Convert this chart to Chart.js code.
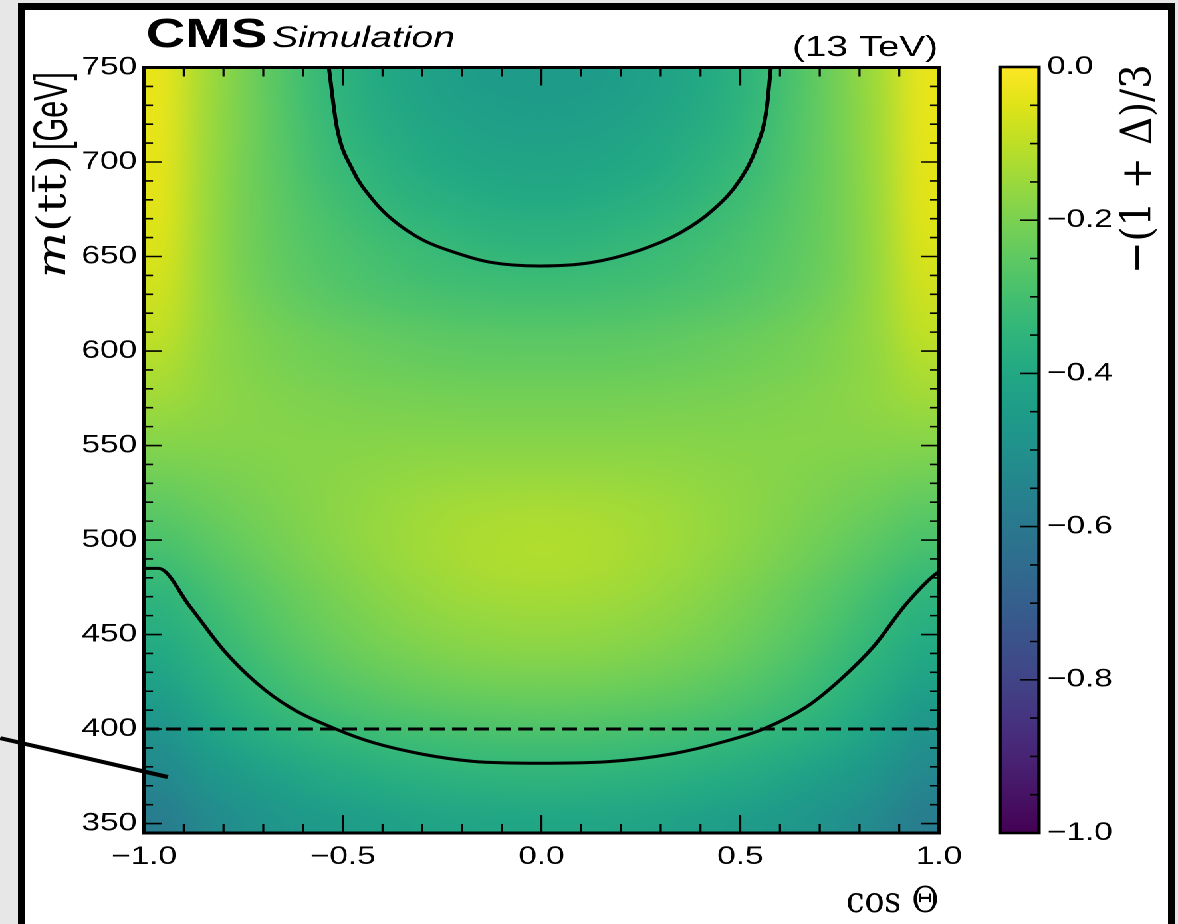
<!DOCTYPE html>
<html><head><meta charset="utf-8">
<script src="https://cdn.jsdelivr.net/npm/chart.js@4.4.1/dist/chart.umd.min.js"></script>
<style>
html,body{margin:0;padding:0;width:1178px;height:924px;overflow:hidden;background:#e7e7e7;}
#frame{position:absolute;left:18px;top:3px;width:1157px;height:935px;border:7px solid #000;box-sizing:border-box;background:#fff;}
#stage{position:absolute;left:0;top:0;height:924px;transform-origin:0 0;}
#stage canvas{position:absolute;top:0;}
</style></head><body>
<div id="frame"></div>
<div id="stage"><canvas id="main"></canvas><canvas id="cbar"></canvas></div>
<script>
// ---------------- data ----------------
const cosCenters = [-0.95,-0.85,-0.75,-0.65,-0.55,-0.45,-0.35,-0.25,-0.15,-0.05,0.05,0.15,0.25,0.35,0.45,0.55,0.65,0.75,0.85,0.95];
const cosHalfWidth = 0.05;
const massEdges = [345,360,375,390,405,420,435,450,465,480,495,510,525,540,555,570,585,600,615,630,645,660,675,690,705,720,735,750];
// -(1+Delta)/3 per mass row (bottom -> top), per cos bin (left -> right)
const dValues = [
[-0.58,-0.535,-0.5,-0.475,-0.455,-0.44,-0.428,-0.418,-0.412,-0.41,-0.41,-0.412,-0.418,-0.428,-0.44,-0.455,-0.475,-0.5,-0.535,-0.58],
[-0.55,-0.505,-0.468,-0.44,-0.418,-0.402,-0.389,-0.379,-0.373,-0.37,-0.37,-0.373,-0.379,-0.389,-0.402,-0.418,-0.44,-0.468,-0.505,-0.55],
[-0.52,-0.472,-0.433,-0.404,-0.382,-0.365,-0.351,-0.341,-0.334,-0.331,-0.331,-0.334,-0.341,-0.351,-0.365,-0.382,-0.404,-0.433,-0.472,-0.52],
[-0.49,-0.435,-0.392,-0.362,-0.34,-0.323,-0.31,-0.3,-0.293,-0.29,-0.29,-0.293,-0.3,-0.31,-0.323,-0.34,-0.362,-0.392,-0.435,-0.49],
[-0.455,-0.403,-0.36,-0.327,-0.301,-0.281,-0.266,-0.255,-0.248,-0.245,-0.245,-0.248,-0.255,-0.266,-0.281,-0.301,-0.327,-0.36,-0.403,-0.455],
[-0.42,-0.377,-0.337,-0.301,-0.271,-0.248,-0.23,-0.217,-0.209,-0.205,-0.205,-0.209,-0.217,-0.23,-0.248,-0.271,-0.301,-0.337,-0.377,-0.42],
[-0.392,-0.353,-0.312,-0.275,-0.244,-0.22,-0.201,-0.188,-0.179,-0.175,-0.175,-0.179,-0.188,-0.201,-0.22,-0.244,-0.275,-0.312,-0.353,-0.392],
[-0.368,-0.331,-0.291,-0.255,-0.225,-0.201,-0.182,-0.168,-0.159,-0.155,-0.155,-0.159,-0.168,-0.182,-0.201,-0.225,-0.255,-0.291,-0.331,-0.368],
[-0.345,-0.308,-0.272,-0.239,-0.21,-0.186,-0.167,-0.151,-0.14,-0.135,-0.135,-0.14,-0.151,-0.167,-0.186,-0.21,-0.239,-0.272,-0.308,-0.345],
[-0.31,-0.278,-0.247,-0.218,-0.193,-0.172,-0.153,-0.138,-0.126,-0.12,-0.12,-0.126,-0.138,-0.153,-0.172,-0.193,-0.218,-0.247,-0.278,-0.31],
[-0.28,-0.253,-0.228,-0.204,-0.183,-0.164,-0.148,-0.135,-0.125,-0.12,-0.12,-0.125,-0.135,-0.148,-0.164,-0.183,-0.204,-0.228,-0.253,-0.28],
[-0.25,-0.23,-0.211,-0.194,-0.179,-0.165,-0.153,-0.143,-0.136,-0.133,-0.133,-0.136,-0.143,-0.153,-0.165,-0.179,-0.194,-0.211,-0.23,-0.25],
[-0.22,-0.209,-0.198,-0.188,-0.179,-0.171,-0.164,-0.159,-0.156,-0.155,-0.155,-0.156,-0.159,-0.164,-0.171,-0.179,-0.188,-0.198,-0.209,-0.22],
[-0.19,-0.188,-0.186,-0.184,-0.182,-0.18,-0.178,-0.177,-0.176,-0.175,-0.175,-0.176,-0.177,-0.178,-0.18,-0.182,-0.184,-0.186,-0.188,-0.19],
[-0.165,-0.173,-0.18,-0.185,-0.189,-0.191,-0.193,-0.194,-0.195,-0.195,-0.195,-0.195,-0.194,-0.193,-0.191,-0.189,-0.185,-0.18,-0.173,-0.165],
[-0.14,-0.163,-0.18,-0.191,-0.199,-0.205,-0.209,-0.212,-0.214,-0.215,-0.215,-0.214,-0.212,-0.209,-0.205,-0.199,-0.191,-0.18,-0.163,-0.14],
[-0.12,-0.16,-0.186,-0.203,-0.215,-0.224,-0.231,-0.236,-0.239,-0.24,-0.24,-0.239,-0.236,-0.231,-0.224,-0.215,-0.203,-0.186,-0.16,-0.12],
[-0.1,-0.156,-0.189,-0.21,-0.226,-0.238,-0.247,-0.254,-0.258,-0.26,-0.26,-0.258,-0.254,-0.247,-0.238,-0.226,-0.21,-0.189,-0.156,-0.1],
[-0.085,-0.152,-0.199,-0.228,-0.249,-0.264,-0.275,-0.283,-0.288,-0.29,-0.29,-0.288,-0.283,-0.275,-0.264,-0.249,-0.228,-0.199,-0.152,-0.085],
[-0.072,-0.152,-0.208,-0.243,-0.267,-0.285,-0.299,-0.309,-0.315,-0.318,-0.318,-0.315,-0.309,-0.299,-0.285,-0.267,-0.243,-0.208,-0.152,-0.072],
[-0.062,-0.15,-0.21,-0.248,-0.276,-0.297,-0.314,-0.328,-0.339,-0.345,-0.345,-0.339,-0.328,-0.314,-0.297,-0.276,-0.248,-0.21,-0.15,-0.062],
[-0.054,-0.147,-0.21,-0.253,-0.286,-0.313,-0.335,-0.352,-0.364,-0.37,-0.37,-0.364,-0.352,-0.335,-0.313,-0.286,-0.253,-0.21,-0.147,-0.054],
[-0.048,-0.145,-0.21,-0.258,-0.298,-0.33,-0.357,-0.376,-0.389,-0.395,-0.395,-0.389,-0.376,-0.357,-0.33,-0.298,-0.258,-0.21,-0.145,-0.048],
[-0.045,-0.143,-0.21,-0.264,-0.312,-0.345,-0.377,-0.396,-0.409,-0.415,-0.415,-0.409,-0.396,-0.377,-0.345,-0.312,-0.264,-0.21,-0.143,-0.045],
[-0.042,-0.14,-0.208,-0.268,-0.32,-0.362,-0.39,-0.41,-0.424,-0.43,-0.43,-0.424,-0.41,-0.39,-0.362,-0.32,-0.268,-0.208,-0.14,-0.042],
[-0.04,-0.138,-0.207,-0.272,-0.328,-0.374,-0.403,-0.424,-0.438,-0.445,-0.445,-0.438,-0.424,-0.403,-0.374,-0.328,-0.272,-0.207,-0.138,-0.04],
[-0.038,-0.135,-0.205,-0.275,-0.334,-0.38,-0.412,-0.434,-0.448,-0.455,-0.455,-0.448,-0.434,-0.412,-0.38,-0.334,-0.275,-0.205,-0.135,-0.038]
];
// contour lines (cos, m)
const contourUpper = [[-0.535,750],[-0.515,718.7],[-0.475,695.8],[-0.424,679.9],[-0.374,669.3],[-0.298,658.7],[-0.213,651.8],[-0.13,647],[-0.004,645],[0.122,646.7],[0.248,653.4],[0.348,662.4],[0.431,674.6],[0.499,690.5],[0.541,708],[0.566,727.5],[0.577,750]];
const contourLower = [[-1,485],[-0.964,485],[-0.884,464.7],[-0.8,441.8],[-0.716,424.2],[-0.633,411.5],[-0.515,399.8],[-0.423,392.8],[-0.297,386.6],[-0.172,382.9],[-0.004,381.9],[0.164,382.7],[0.332,387],[0.457,393.2],[0.56,400.2],[0.667,411.8],[0.751,426],[0.835,443.6],[0.919,466.5],[0.994,482.4],[1,483]];
const thresholdMass = 400;
const pointerLine = [[-1.362,395.2],[-0.94,374.6]];
// ticks
const xTicks = [-1, -0.5, 0, 0.5, 1];
const yTicks = [350, 400, 450, 500, 550, 600, 650, 700, 750];
const cbTicks = [-1, -0.8, -0.6, -0.4, -0.2, 0];
const cbRange = [-1, 0];
const xRange = [-1, 1];
const yRange = [345, 750];

const viridisStops = [[0,'#440154'],[0.05,'#471365'],[0.1,'#482475'],[0.15,'#463480'],[0.2,'#414487'],[0.25,'#3b528b'],[0.3,'#355f8d'],[0.35,'#2f6c8e'],[0.4,'#2a788e'],[0.45,'#25848e'],[0.5,'#21918c'],[0.55,'#1e9c89'],[0.6,'#22a884'],[0.65,'#2fb47c'],[0.7,'#44bf70'],[0.75,'#5ec962'],[0.8,'#7ad151'],[0.85,'#9bd93c'],[0.9,'#bddf26'],[0.95,'#dfe318'],[1,'#fde725']];

// ---------------- layout helpers ----------------
const LW = 886, H = 924, S = 1178 / LW, DPR = 2;
const sx = v => v / S;
const SANS = "'Liberation Sans', Arial, Helvetica, sans-serif";
const SERIF = "'DejaVu Serif', 'Liberation Serif', serif";
Chart.defaults.font.family = SANS;
Chart.defaults.color = '#000';

const stage = document.getElementById('stage');
stage.style.width = LW + 'px';
stage.style.transform = 'scaleX(' + S + ')';
const mainCv = document.getElementById('main');
mainCv.width = LW; mainCv.height = H; mainCv.style.left = '0px';
const cbLeft = Math.round(sx(960));
const cbW = LW - cbLeft;
const cbCv = document.getElementById('cbar');
cbCv.width = cbW; cbCv.height = H; cbCv.style.left = cbLeft + 'px';

const hex = h => [parseInt(h.slice(1,3),16), parseInt(h.slice(3,5),16), parseInt(h.slice(5,7),16)];
const VIR = viridisStops.map(([t,h]) => [t, hex(h)]);
function viridisRGB(d) {
  let t = (d - cbRange[0]) / (cbRange[1] - cbRange[0]);
  t = Math.max(0, Math.min(1, t));
  for (let i = 1; i < VIR.length; i++) {
    if (t <= VIR[i][0]) {
      const [t0, c0] = VIR[i-1], [t1, c1] = VIR[i];
      const f = (t - t0) / (t1 - t0);
      return c0.map((c,k) => Math.round(c + (c1[k]-c)*f));
    }
  }
  return [253,231,37];
}
const fmt1 = v => (v < -1e-9 ? '\u2212' : '') + Math.abs(v).toFixed(1);

// draw text so that its ink box fills [a0,a1] along the text and [c0,c1] across it
function boxText(ctx, txt, font, a0, a1, c0, c1) {
  ctx.save();
  ctx.font = font;
  ctx.textAlign = 'left';
  ctx.textBaseline = 'alphabetic';
  const m = ctx.measureText(txt);
  const L = m.actualBoundingBoxLeft, R = m.actualBoundingBoxRight;
  const A = m.actualBoundingBoxAscent, D = m.actualBoundingBoxDescent;
  const kx = (a1 - a0) / (L + R), ky = (c1 - c0) / (A + D);
  ctx.translate(a0 + L * kx, c0 + A * ky);
  ctx.scale(kx, ky);
  ctx.fillStyle = '#000';
  ctx.fillText(txt, 0, 0);
  ctx.restore();
}

// ---------------- main chart ----------------
// each cell is a floating bar; its fill is the colour image of the value grid placed with the scales
function heatFill(c) {
  const chart = c.chart, a = chart.chartArea, xs = chart.scales.x, ys = chart.scales.y;
  if (!a || !xs || !ys) return '#888';
  const x0 = xs.getPixelForValue(cosCenters[0] - cosHalfWidth);
  const x1 = xs.getPixelForValue(cosCenters[cosCenters.length - 1] + cosHalfWidth);
  const yT = ys.getPixelForValue(massEdges[massEdges.length - 1]);
  const yB = ys.getPixelForValue(massEdges[0]);
  const key = [x0, x1, yT, yB].join(',');
  if (chart.$heat && chart.$heat.key === key) return chart.$heat.pat;
  const nx = cosCenters.length, ny = dValues.length;
  const small = document.createElement('canvas');
  small.width = nx; small.height = ny;
  const sctx = small.getContext('2d');
  const img = sctx.createImageData(nx, ny);
  dValues.forEach((row, r) => row.forEach((v, i) => {
    const p = ((ny - 1 - r) * nx + i) * 4, rgb = viridisRGB(v);
    img.data[p] = rgb[0]; img.data[p+1] = rgb[1]; img.data[p+2] = rgb[2]; img.data[p+3] = 255;
  }));
  sctx.putImageData(img, 0, 0);
  const big = document.createElement('canvas');
  big.width = Math.ceil((x1 - x0) * DPR); big.height = Math.ceil((yB - yT) * DPR);
  const bctx = big.getContext('2d');
  bctx.imageSmoothingEnabled = true;
  bctx.imageSmoothingQuality = 'high';
  bctx.drawImage(small, 0, 0, big.width, big.height);
  const pat = chart.ctx.createPattern(big, 'no-repeat');
  pat.setTransform(new DOMMatrix([1 / DPR, 0, 0, 1 / DPR, x0, yT]));
  chart.$heat = { key, pat };
  return pat;
}
const heatSets = dValues.map((row, r) => ({
  type: 'bar',
  label: 'm ' + massEdges[r] + '-' + massEdges[r+1],
  data: cosCenters.map((c, i) => ({ x: c, y: [massEdges[r], massEdges[r+1]], v: row[i] })),
  backgroundColor: heatFill,
  borderWidth: 0,
  barPercentage: 1,
  categoryPercentage: 1,
  grouped: false,
  inflateAmount: 0.6,
  order: 10
}));
const lineStyle = { type: 'line', borderColor: '#000', pointRadius: 0, fill: false, order: 0, borderJoinStyle: 'round' };
const lineSets = [
  Object.assign({}, lineStyle, { data: contourUpper.map(([x,y]) => ({x, y})), borderWidth: 3, cubicInterpolationMode: 'monotone' }),
  Object.assign({}, lineStyle, { data: contourLower.map(([x,y]) => ({x, y})), borderWidth: 3, cubicInterpolationMode: 'monotone' }),
  Object.assign({}, lineStyle, { data: [{x: xRange[0], y: thresholdMass}, {x: xRange[1], y: thresholdMass}], borderWidth: 3, borderDash: [sx(15), sx(7)], tension: 0 }),
  Object.assign({}, lineStyle, { data: pointerLine.map(([x,y]) => ({x, y})), borderWidth: 4, tension: 0, clip: false })
];

const mainDeco = {
  id: 'mainDeco',
  afterDatasetsDraw(chart) {
    const { ctx, chartArea: a, scales: { x, y } } = chart;
    ctx.save();
    ctx.strokeStyle = '#000';
    ctx.lineWidth = 1.6;
    ctx.beginPath();
    for (let k = -10; k <= 10; k++) {
      const X = x.getPixelForValue(k / 10);
      const len = (k % 5 === 0) ? 18 : 9;
      ctx.moveTo(X, a.bottom); ctx.lineTo(X, a.bottom - len);
      ctx.moveTo(X, a.top); ctx.lineTo(X, a.top + len);
    }
    for (let m = 350; m <= 750; m += 10) {
      const Y = y.getPixelForValue(m);
      const len = (m % 50 === 0) ? sx(18) : sx(9);
      ctx.moveTo(a.left, Y); ctx.lineTo(a.left + len, Y);
      ctx.moveTo(a.right, Y); ctx.lineTo(a.right - len, Y);
    }
    ctx.stroke();
    ctx.lineWidth = 3;
    ctx.strokeRect(a.left, a.top, a.right - a.left, a.bottom - a.top);
    ctx.restore();
  },
  afterDraw(chart) {
    const ctx = chart.ctx;
    ctx.save();
    ctx.fillStyle = '#000';
    ctx.textBaseline = 'alphabetic';
    ctx.textAlign = 'left';
    ctx.font = 'bold 41px ' + SANS;
    ctx.fillText('CMS', sx(146), 47);
    ctx.font = 'italic 29.5px ' + SANS;
    ctx.fillText('Simulation', sx(272), 47);
    ctx.textAlign = 'right';
    ctx.font = '29px ' + SANS;
    ctx.fillText('(13 TeV)', sx(938), 56);
    ctx.restore();
    // x title
    boxText(ctx, 'cos \u0398', '34px ' + SERIF, sx(847), sx(937), 886, 912);
    // y title (rotated, reads bottom -> top)
    ctx.save();
    ctx.rotate(-Math.PI / 2);
    ctx.fillStyle = '#000';
    ctx.strokeStyle = '#000';
    ctx.textAlign = 'left';
    ctx.textBaseline = 'alphabetic';
    // math part m(tt̄), stretched along the text to span y 278 -> 155
    ctx.font = 'italic 30px ' + SERIF;
    const wm = ctx.measureText('m').width;
    ctx.font = '30px ' + SERIF;
    const wp = ctx.measureText('(tt)').width, wpt = ctx.measureText('(t').width, wt = ctx.measureText('t').width;
    const kx = 123 / (wm + wp);
    ctx.save();
    ctx.translate(-278, sx(65));
    ctx.scale(kx, 1);
    ctx.font = 'italic 30px ' + SERIF;
    ctx.fillText('m', 0, 0);
    ctx.font = '30px ' + SERIF;
    ctx.fillText('(tt)', wm, 0);
    ctx.lineWidth = 1.7;
    ctx.beginPath();
    ctx.moveTo(wm + wpt + 1, -24);
    ctx.lineTo(wm + wpt + wt - 1, -24);
    ctx.stroke();
    ctx.restore();
    // [GeV] in sans, spanning y 150 -> 72
    ctx.font = '36px ' + SANS;
    const wg = ctx.measureText('[GeV]').width;
    ctx.save();
    ctx.translate(-150, sx(67));
    ctx.scale(78 / wg, 1);
    ctx.fillText('[GeV]', 0, 0);
    ctx.restore();
    ctx.restore();
  }
};

new Chart(mainCv, {
  type: 'bar',
  data: { datasets: heatSets.concat(lineSets) },
  options: {
    responsive: false, animation: false, devicePixelRatio: DPR, events: [],
    layout: { padding: { left: 0, right: LW - sx(939), top: 67.5, bottom: H - 833 - 40 } },
    plugins: { legend: { display: false }, tooltip: { enabled: false } },
    scales: {
      x: {
        type: 'linear', min: xRange[0], max: xRange[1], offset: false,
        afterBuildTicks: s => { s.ticks = xTicks.map(v => ({ value: v })); },
        afterFit: s => { s.height = 40; },
        grid: { display: false, drawTicks: false, offset: false }, border: { display: false },
        ticks: { padding: 9, autoSkip: false, maxRotation: 0, font: { size: 25 }, color: '#000', callback: v => fmt1(v) }
      },
      y: {
        type: 'linear', min: yRange[0], max: yRange[1],
        afterBuildTicks: s => { s.ticks = yTicks.map(v => ({ value: v })); },
        afterFit: s => { s.width = sx(144); },
        grid: { display: false, drawTicks: false }, border: { display: false },
        ticks: { padding: sx(7), autoSkip: false, font: { size: 25 }, color: '#000', callback: v => String(v) }
      }
    }
  },
  plugins: [mainDeco]
});

// ---------------- colour bar ----------------
const cbDeco = {
  id: 'cbDeco',
  afterDatasetsDraw(chart) {
    const { ctx, chartArea: a, scales: { y } } = chart;
    ctx.save();
    ctx.strokeStyle = '#000';
    ctx.lineWidth = 1.6;
    ctx.beginPath();
    for (let k = 0; k <= 20; k++) {
      const v = -1 + k * 0.05;
      const Y = y.getPixelForValue(v);
      const len = (k % 4 === 0) ? sx(19) : sx(9);
      ctx.moveTo(a.right, Y); ctx.lineTo(a.right - len, Y);
    }
    ctx.stroke();
    ctx.lineWidth = 2.6;
    ctx.strokeRect(a.left, a.top, a.right - a.left, a.bottom - a.top);
    ctx.restore();
  },
  afterDraw(chart) {
    const ctx = chart.ctx;
    ctx.save();
    ctx.rotate(-Math.PI / 2);
    boxText(ctx, '\u2212(1 + \u0394)/3', '30px ' + SERIF, -270, -67, sx(1118) - cbLeft, sx(1158) - cbLeft);
    ctx.restore();
  }
};

new Chart(cbCv, {
  type: 'bar',
  data: {
    labels: ['D'],
    datasets: [{
      data: [[cbRange[0], cbRange[1]]],
      backgroundColor: (c) => {
        const ch = c.chart, ca = ch.chartArea;
        if (!ca) return '#888';
        const ys = ch.scales.y;
        const g = ch.ctx.createLinearGradient(0, ys.getPixelForValue(cbRange[0]), 0, ys.getPixelForValue(cbRange[1]));
        viridisStops.forEach(([t, h]) => g.addColorStop(t, h));
        return g;
      },
      borderWidth: 0, barPercentage: 1, categoryPercentage: 1, inflateAmount: 0
    }]
  },
  options: {
    responsive: false, animation: false, devicePixelRatio: DPR, events: [],
    layout: { padding: { left: sx(1000) - cbLeft, right: 0, top: 67, bottom: H - 833 } },
    plugins: { legend: { display: false }, tooltip: { enabled: false } },
    scales: {
      x: { display: false },
      y: {
        position: 'right', min: cbRange[0], max: cbRange[1],
        afterBuildTicks: s => { s.ticks = cbTicks.map(v => ({ value: v })); },
        afterFit: s => { s.width = cbW - (sx(1039) - cbLeft); },
        grid: { display: false, drawTicks: false }, border: { display: false },
        ticks: { padding: sx(8), autoSkip: false, font: { size: 25 }, color: '#000', callback: v => fmt1(v) }
      }
    }
  },
  plugins: [cbDeco]
});
</script>
</body></html>
